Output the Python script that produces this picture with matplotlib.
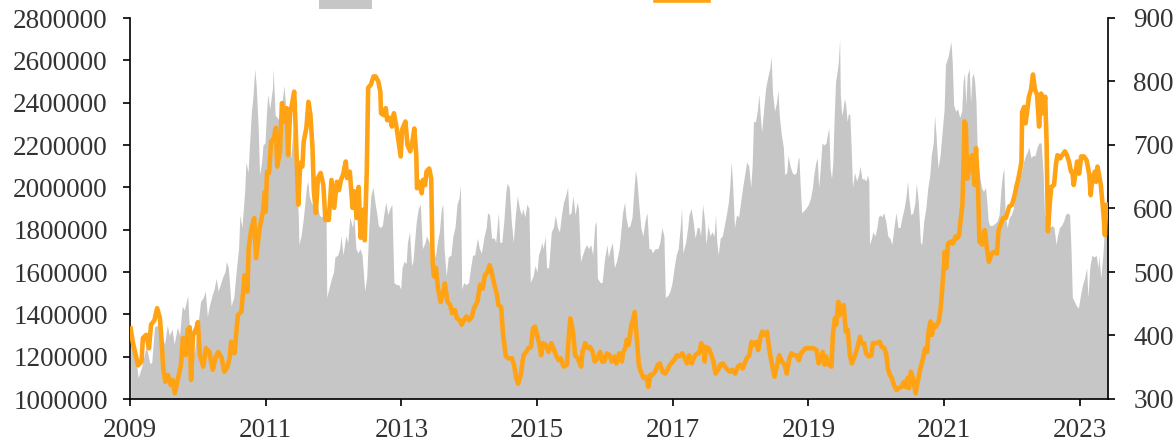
import matplotlib
matplotlib.use("Agg")
import matplotlib.pyplot as plt
from matplotlib.patches import Patch
from matplotlib.lines import Line2D

# gray area series (left axis), values in millions
area_dates = [
    2009.01, 2009.07, 2009.12, 2009.17, 2009.24, 2009.29, 2009.32, 2009.36, 2009.41, 2009.46,
    2009.51, 2009.55, 2009.58, 2009.62, 2009.65, 2009.70, 2009.73, 2009.77, 2009.80, 2009.83,
    2009.85, 2009.88, 2009.91, 2009.95, 2010.00, 2010.04, 2010.08, 2010.11, 2010.14, 2010.17,
    2010.21, 2010.24, 2010.27, 2010.30, 2010.34, 2010.37, 2010.40, 2010.42, 2010.45, 2010.49,
    2010.53, 2010.57, 2010.60, 2010.62, 2010.65, 2010.69, 2010.71, 2010.74, 2010.76, 2010.79,
    2010.81, 2010.84, 2010.86, 2010.89, 2010.91, 2010.94, 2010.96, 2010.99, 2011.01, 2011.03,
    2011.06, 2011.10, 2011.11, 2011.14, 2011.17, 2011.21, 2011.24, 2011.27, 2011.29, 2011.33,
    2011.37, 2011.41, 2011.44, 2011.48, 2011.49, 2011.52, 2011.55, 2011.57, 2011.60, 2011.62,
    2011.64, 2011.67, 2011.71, 2011.75, 2011.79, 2011.82, 2011.86, 2011.89, 2011.90, 2011.93,
    2011.97, 2012.00, 2012.02, 2012.06, 2012.09, 2012.11, 2012.14, 2012.18, 2012.21, 2012.24,
    2012.28, 2012.30, 2012.33, 2012.36, 2012.39, 2012.42, 2012.46, 2012.49, 2012.52, 2012.55,
    2012.58, 2012.61, 2012.64, 2012.66, 2012.69, 2012.72, 2012.74, 2012.77, 2012.80, 2012.83,
    2012.86, 2012.89, 2012.93, 2012.96, 2012.99, 2013.01, 2013.04, 2013.07, 2013.09, 2013.12,
    2013.15, 2013.17, 2013.22, 2013.25, 2013.28, 2013.31, 2013.35, 2013.37, 2013.41, 2013.43,
    2013.47, 2013.50, 2013.53, 2013.56, 2013.59, 2013.61, 2013.63, 2013.66, 2013.69, 2013.73,
    2013.76, 2013.79, 2013.82, 2013.85, 2013.87, 2013.89, 2013.92, 2013.95, 2013.99, 2014.02,
    2014.05, 2014.08, 2014.12, 2014.15, 2014.18, 2014.22, 2014.25, 2014.27, 2014.30, 2014.33,
    2014.37, 2014.39, 2014.43, 2014.45, 2014.48, 2014.51, 2014.54, 2014.56, 2014.59, 2014.62,
    2014.65, 2014.68, 2014.71, 2014.74, 2014.77, 2014.79, 2014.82, 2014.85, 2014.88, 2014.90,
    2014.94, 2014.97, 2015.00, 2015.02, 2015.05, 2015.07, 2015.09, 2015.12, 2015.14, 2015.17,
    2015.21, 2015.24, 2015.27, 2015.30, 2015.33, 2015.36, 2015.39, 2015.42, 2015.45, 2015.47,
    2015.50, 2015.53, 2015.56, 2015.59, 2015.61, 2015.64, 2015.67, 2015.70, 2015.73, 2015.76,
    2015.79, 2015.82, 2015.85, 2015.87, 2015.89, 2015.93, 2015.96, 2015.99, 2016.03, 2016.05,
    2016.08, 2016.11, 2016.14, 2016.17, 2016.21, 2016.24, 2016.26, 2016.29, 2016.31, 2016.34,
    2016.37, 2016.40, 2016.43, 2016.45, 2016.47, 2016.50, 2016.53, 2016.56, 2016.59, 2016.62,
    2016.65, 2016.68, 2016.70, 2016.74, 2016.78, 2016.81, 2016.84, 2016.87, 2016.89, 2016.93,
    2016.96, 2016.99, 2017.02, 2017.05, 2017.08, 2017.11, 2017.13, 2017.15, 2017.19, 2017.22,
    2017.24, 2017.27, 2017.30, 2017.33, 2017.36, 2017.39, 2017.41, 2017.44, 2017.47, 2017.49,
    2017.52, 2017.55, 2017.58, 2017.61, 2017.63, 2017.65, 2017.67, 2017.70, 2017.73, 2017.76,
    2017.79, 2017.82, 2017.84, 2017.86, 2017.88, 2017.91, 2017.94, 2017.97, 2018.00, 2018.03,
    2018.06, 2018.09, 2018.12, 2018.15, 2018.17, 2018.19, 2018.22, 2018.25, 2018.27, 2018.29,
    2018.31, 2018.34, 2018.37, 2018.40, 2018.43, 2018.45, 2018.47, 2018.50, 2018.53, 2018.55,
    2018.57, 2018.60, 2018.63, 2018.65, 2018.68, 2018.70, 2018.73, 2018.76, 2018.79, 2018.82,
    2018.85, 2018.86, 2018.88, 2018.90, 2018.93, 2018.96, 2019.00, 2019.03, 2019.06, 2019.08,
    2019.11, 2019.13, 2019.15, 2019.17, 2019.20, 2019.23, 2019.26, 2019.28, 2019.30, 2019.32,
    2019.34, 2019.36, 2019.38, 2019.40, 2019.42, 2019.44, 2019.46, 2019.47, 2019.49, 2019.51,
    2019.53, 2019.55, 2019.57, 2019.59, 2019.61, 2019.63, 2019.65, 2019.68, 2019.71, 2019.74,
    2019.76, 2019.79, 2019.82, 2019.85, 2019.87, 2019.89, 2019.90, 2019.93, 2019.95, 2019.98,
    2020.01, 2020.03, 2020.06, 2020.08, 2020.11, 2020.14, 2020.17, 2020.20, 2020.23, 2020.26,
    2020.29, 2020.32, 2020.35, 2020.38, 2020.41, 2020.44, 2020.46, 2020.48, 2020.51, 2020.54,
    2020.57, 2020.59, 2020.62, 2020.65, 2020.67, 2020.70, 2020.73, 2020.76, 2020.79, 2020.81,
    2020.84, 2020.86, 2020.88, 2020.91, 2020.94, 2020.97, 2021.00, 2021.02, 2021.06, 2021.10,
    2021.12, 2021.14, 2021.17, 2021.20, 2021.23, 2021.26, 2021.28, 2021.30, 2021.32, 2021.34,
    2021.37, 2021.39, 2021.41, 2021.43, 2021.45, 2021.47, 2021.49, 2021.52, 2021.55, 2021.58,
    2021.61, 2021.63, 2021.65, 2021.67, 2021.71, 2021.75, 2021.78, 2021.81, 2021.84, 2021.86,
    2021.88, 2021.90, 2021.93, 2021.96, 2021.99, 2022.02, 2022.05, 2022.08, 2022.11, 2022.14,
    2022.17, 2022.20, 2022.23, 2022.25, 2022.28, 2022.31, 2022.34, 2022.37, 2022.40, 2022.43,
    2022.46, 2022.48, 2022.50, 2022.53, 2022.56, 2022.59, 2022.62, 2022.65, 2022.67, 2022.70,
    2022.73, 2022.76, 2022.79, 2022.82, 2022.85, 2022.87, 2022.89, 2022.92, 2022.95, 2022.98,
    2023.01, 2023.04, 2023.07, 2023.10, 2023.12, 2023.15, 2023.18, 2023.21, 2023.24, 2023.27,
    2023.28, 2023.31, 2023.34, 2023.36, 2023.39, 2023.42,
]
area_mn = [
    1.30, 1.24, 1.10, 1.15, 1.25, 1.17, 1.17, 1.34, 1.35, 1.30,
    1.26, 1.35, 1.30, 1.33, 1.26, 1.34, 1.30, 1.44, 1.42, 1.46,
    1.49, 1.30, 1.24, 1.22, 1.35, 1.46, 1.48, 1.51, 1.39, 1.44,
    1.49, 1.52, 1.57, 1.51, 1.55, 1.58, 1.60, 1.65, 1.62, 1.44,
    1.48, 1.62, 1.71, 1.87, 1.81, 1.98, 2.12, 2.07, 2.19, 2.36,
    2.42, 2.56, 2.48, 2.28, 2.06, 2.12, 2.20, 2.21, 2.34, 2.44,
    2.37, 2.47, 2.56, 2.34, 2.33, 2.31, 2.40, 2.48, 2.40, 2.21,
    2.14, 2.29, 2.15, 1.87, 1.73, 1.77, 1.84, 1.90, 2.00, 2.03,
    1.96, 1.93, 1.90, 1.93, 1.87, 1.86, 1.87, 1.86, 1.48, 1.52,
    1.57, 1.60, 1.67, 1.68, 1.71, 1.77, 1.68, 1.77, 1.74, 1.86,
    1.81, 1.87, 1.71, 1.69, 1.71, 1.68, 1.51, 1.58, 1.81, 1.96,
    2.00, 1.93, 1.87, 1.82, 1.81, 1.82, 1.87, 1.93, 1.87, 1.90,
    1.92, 1.55, 1.54, 1.54, 1.52, 1.62, 1.65, 1.64, 1.74, 1.79,
    1.63, 1.65, 1.84, 1.90, 1.92, 1.71, 1.74, 1.77, 1.74, 1.65,
    1.71, 1.67, 1.74, 1.79, 1.90, 1.92, 1.71, 1.58, 1.67, 1.68,
    1.77, 1.81, 1.92, 1.95, 2.01, 1.52, 1.55, 1.54, 1.55, 1.62,
    1.68, 1.68, 1.76, 1.71, 1.69, 1.77, 1.81, 1.88, 1.87, 1.76,
    1.76, 1.74, 1.88, 1.74, 1.74, 1.84, 1.98, 2.02, 2.00, 1.84,
    1.74, 1.87, 1.96, 1.90, 1.87, 1.90, 1.86, 1.92, 1.90, 1.55,
    1.58, 1.63, 1.60, 1.68, 1.71, 1.74, 1.71, 1.77, 1.62, 1.62,
    1.79, 1.81, 1.87, 1.81, 1.79, 1.87, 1.93, 1.96, 2.00, 1.87,
    1.88, 1.96, 1.87, 1.93, 1.90, 1.65, 1.68, 1.71, 1.73, 1.71,
    1.73, 1.68, 1.82, 1.84, 1.57, 1.55, 1.55, 1.65, 1.73, 1.67,
    1.71, 1.74, 1.62, 1.65, 1.71, 1.81, 1.88, 1.93, 1.86, 1.81,
    1.82, 1.86, 2.00, 2.08, 2.04, 1.92, 1.81, 1.77, 1.84, 1.88,
    1.71, 1.71, 1.69, 1.71, 1.71, 1.74, 1.81, 1.77, 1.48, 1.49,
    1.51, 1.55, 1.62, 1.68, 1.71, 1.81, 1.90, 1.69, 1.74, 1.81,
    1.87, 1.90, 1.84, 1.76, 1.81, 1.81, 1.77, 1.92, 1.84, 1.73,
    1.82, 1.77, 1.79, 1.77, 1.87, 1.74, 1.68, 1.76, 1.77, 1.82,
    1.87, 1.93, 2.00, 2.12, 2.03, 1.81, 1.87, 1.86, 1.93, 2.00,
    2.06, 2.12, 2.10, 2.00, 2.10, 2.31, 2.31, 2.37, 2.44, 2.34,
    2.26, 2.37, 2.47, 2.52, 2.56, 2.62, 2.45, 2.36, 2.40, 2.46,
    2.34, 2.25, 2.19, 2.06, 2.07, 2.15, 2.10, 2.07, 2.06, 2.07,
    2.14, 2.14, 2.00, 1.88, 1.89, 1.90, 1.92, 1.95, 2.00, 2.06,
    2.12, 2.14, 2.00, 2.07, 2.21, 2.20, 2.21, 2.25, 2.28, 2.09,
    2.04, 2.12, 2.34, 2.50, 2.54, 2.59, 2.70, 2.44, 2.34, 2.37,
    2.42, 2.39, 2.31, 2.35, 2.34, 2.19, 2.00, 2.07, 2.03, 2.06,
    2.10, 2.04, 2.04, 2.03, 2.06, 2.03, 1.73, 1.76, 1.79, 1.77,
    1.81, 1.86, 1.87, 1.86, 1.88, 1.84, 1.77, 1.76, 1.73, 1.81,
    1.88, 1.81, 1.81, 1.86, 1.90, 1.96, 2.03, 1.95, 1.87, 1.88,
    1.93, 2.02, 1.93, 1.74, 1.73, 1.84, 1.90, 2.00, 2.06, 2.15,
    2.21, 2.34, 2.25, 2.09, 2.15, 2.26, 2.37, 2.58, 2.62, 2.69,
    2.59, 2.39, 2.36, 2.37, 2.33, 2.36, 2.50, 2.54, 2.39, 2.53,
    2.56, 2.40, 2.52, 2.54, 2.50, 2.40, 2.15, 2.06, 2.00, 1.98,
    2.00, 1.93, 1.84, 1.82, 1.82, 1.83, 1.84, 1.87, 2.00, 2.06,
    2.09, 1.87, 1.81, 1.86, 1.87, 1.90, 2.00, 2.03, 2.06, 2.07,
    2.12, 2.15, 2.17, 2.19, 2.14, 2.15, 2.15, 2.19, 2.21, 2.21,
    2.06, 1.87, 1.86, 1.82, 1.81, 1.82, 1.81, 1.73, 1.77, 1.81,
    1.82, 1.84, 1.87, 1.88, 1.87, 1.71, 1.48, 1.46, 1.44, 1.43,
    1.49, 1.54, 1.57, 1.62, 1.48, 1.63, 1.68, 1.67, 1.68, 1.62,
    1.68, 1.57, 1.68, 1.79, 1.84, 1.90,
]

# orange line series (right axis)
line_dates = [
    2009.01, 2009.04, 2009.12, 2009.17, 2009.19, 2009.24, 2009.28, 2009.31, 2009.36, 2009.40,
    2009.44, 2009.46, 2009.49, 2009.52, 2009.56, 2009.60, 2009.63, 2009.66, 2009.71, 2009.75,
    2009.78, 2009.82, 2009.85, 2009.88, 2009.90, 2009.93, 2009.98, 2010.00, 2010.03, 2010.08,
    2010.12, 2010.17, 2010.22, 2010.26, 2010.30, 2010.35, 2010.39, 2010.43, 2010.47, 2010.49,
    2010.54, 2010.59, 2010.64, 2010.69, 2010.73, 2010.75, 2010.79, 2010.83, 2010.86, 2010.91,
    2010.96, 2010.99, 2011.00, 2011.02, 2011.05, 2011.08, 2011.12, 2011.15, 2011.17, 2011.21,
    2011.24, 2011.28, 2011.31, 2011.33, 2011.36, 2011.38, 2011.42, 2011.44, 2011.48, 2011.51,
    2011.54, 2011.56, 2011.60, 2011.63, 2011.66, 2011.69, 2011.71, 2011.74, 2011.77, 2011.81,
    2011.85, 2011.88, 2011.93, 2011.97, 2012.01, 2012.05, 2012.08, 2012.11, 2012.14, 2012.18,
    2012.20, 2012.24, 2012.28, 2012.31, 2012.34, 2012.37, 2012.40, 2012.44, 2012.46, 2012.49,
    2012.51, 2012.55, 2012.59, 2012.62, 2012.66, 2012.69, 2012.70, 2012.74, 2012.77, 2012.79,
    2012.83, 2012.86, 2012.89, 2012.93, 2012.96, 2012.99, 2013.01, 2013.06, 2013.09, 2013.13,
    2013.17, 2013.19, 2013.22, 2013.23, 2013.26, 2013.30, 2013.32, 2013.35, 2013.37, 2013.41,
    2013.44, 2013.46, 2013.48, 2013.51, 2013.54, 2013.58, 2013.62, 2013.64, 2013.68, 2013.72,
    2013.75, 2013.79, 2013.82, 2013.86, 2013.89, 2013.92, 2013.96, 2014.00, 2014.04, 2014.07,
    2014.12, 2014.16, 2014.20, 2014.23, 2014.27, 2014.30, 2014.33, 2014.37, 2014.41, 2014.43,
    2014.47, 2014.50, 2014.54, 2014.58, 2014.63, 2014.66, 2014.69, 2014.72, 2014.76, 2014.80,
    2014.84, 2014.87, 2014.91, 2014.94, 2014.97, 2015.00, 2015.03, 2015.06, 2015.09, 2015.13,
    2015.17, 2015.21, 2015.24, 2015.28, 2015.32, 2015.35, 2015.39, 2015.44, 2015.47, 2015.49,
    2015.53, 2015.56, 2015.60, 2015.65, 2015.67, 2015.71, 2015.75, 2015.78, 2015.82, 2015.85,
    2015.89, 2015.93, 2015.96, 2015.99, 2016.03, 2016.07, 2016.10, 2016.14, 2016.17, 2016.21,
    2016.25, 2016.27, 2016.30, 2016.32, 2016.35, 2016.39, 2016.42, 2016.44, 2016.47, 2016.50,
    2016.53, 2016.57, 2016.61, 2016.64, 2016.67, 2016.70, 2016.74, 2016.78, 2016.81, 2016.85,
    2016.89, 2016.93, 2016.96, 2017.00, 2017.04, 2017.06, 2017.10, 2017.14, 2017.18, 2017.21,
    2017.24, 2017.28, 2017.32, 2017.36, 2017.39, 2017.42, 2017.46, 2017.47, 2017.49, 2017.53,
    2017.57, 2017.60, 2017.63, 2017.67, 2017.70, 2017.74, 2017.77, 2017.81, 2017.85, 2017.88,
    2017.92, 2017.96, 2018.00, 2018.03, 2018.06, 2018.09, 2018.13, 2018.16, 2018.19, 2018.23,
    2018.26, 2018.29, 2018.32, 2018.36, 2018.39, 2018.42, 2018.46, 2018.50, 2018.54, 2018.57,
    2018.61, 2018.65, 2018.68, 2018.72, 2018.75, 2018.78, 2018.82, 2018.86, 2018.89, 2018.93,
    2018.96, 2019.03, 2019.07, 2019.12, 2019.15, 2019.19, 2019.21, 2019.24, 2019.26, 2019.30,
    2019.34, 2019.36, 2019.39, 2019.41, 2019.44, 2019.46, 2019.48, 2019.52, 2019.55, 2019.58,
    2019.61, 2019.64, 2019.68, 2019.72, 2019.76, 2019.78, 2019.82, 2019.85, 2019.89, 2019.93,
    2019.95, 2020.00, 2020.05, 2020.08, 2020.12, 2020.15, 2020.17, 2020.20, 2020.23, 2020.26,
    2020.30, 2020.33, 2020.37, 2020.41, 2020.43, 2020.46, 2020.48, 2020.51, 2020.54, 2020.58,
    2020.61, 2020.65, 2020.69, 2020.72, 2020.75, 2020.77, 2020.80, 2020.82, 2020.85, 2020.88,
    2020.92, 2020.95, 2020.98, 2021.01, 2021.03, 2021.06, 2021.10, 2021.13, 2021.17, 2021.19,
    2021.22, 2021.24, 2021.27, 2021.29, 2021.30, 2021.32, 2021.34, 2021.37, 2021.39, 2021.41,
    2021.43, 2021.45, 2021.47, 2021.50, 2021.52, 2021.56, 2021.60, 2021.63, 2021.66, 2021.70,
    2021.74, 2021.78, 2021.80, 2021.83, 2021.87, 2021.91, 2021.96, 2022.00, 2022.04, 2022.07,
    2022.09, 2022.12, 2022.14, 2022.15, 2022.18, 2022.20, 2022.23, 2022.25, 2022.28, 2022.31,
    2022.34, 2022.37, 2022.40, 2022.43, 2022.46, 2022.49, 2022.51, 2022.53, 2022.56, 2022.58,
    2022.62, 2022.65, 2022.67, 2022.71, 2022.74, 2022.78, 2022.81, 2022.84, 2022.87, 2022.89,
    2022.91, 2022.94, 2022.96, 2022.99, 2023.02, 2023.06, 2023.10, 2023.14, 2023.16, 2023.18,
    2023.22, 2023.24, 2023.26, 2023.28, 2023.31, 2023.35, 2023.37, 2023.39, 2023.41,
]
line_vals = [
    411, 390, 353, 359, 396, 401, 380, 417, 424, 443,
    428, 401, 349, 327, 338, 322, 330, 309, 333, 353,
    396, 369, 409, 413, 330, 401, 412, 421, 369, 351,
    380, 374, 346, 365, 374, 365, 343, 349, 365, 390,
    372, 432, 437, 495, 469, 538, 569, 585, 522, 569,
    595, 627, 595, 658, 656, 705, 711, 727, 666, 689,
    766, 737, 758, 684, 752, 760, 784, 732, 606, 672,
    666, 705, 727, 768, 747, 695, 627, 593, 648, 656,
    637, 582, 582, 645, 601, 642, 629, 645, 653, 674,
    648, 658, 601, 627, 585, 634, 554, 598, 550, 658,
    790, 795, 808, 808, 800, 784, 750, 747, 758, 739,
    743, 729, 750, 727, 705, 682, 724, 737, 700, 690,
    710, 726, 684, 632, 642, 624, 645, 637, 658, 663,
    647, 516, 493, 506, 474, 453, 469, 482, 453, 448,
    435, 440, 427, 424, 417, 424, 430, 424, 430, 443,
    453, 480, 474, 495, 500, 511, 500, 480, 464, 448,
    445, 401, 367, 364, 364, 354, 335, 324, 338, 369,
    374, 380, 382, 411, 414, 401, 388, 369, 388, 385,
    374, 388, 380, 369, 361, 364, 351, 354, 401, 427,
    406, 369, 364, 351, 374, 388, 380, 382, 374, 359,
    364, 374, 359, 359, 372, 369, 359, 367, 356, 372,
    359, 374, 380, 393, 385, 417, 427, 437, 396, 354,
    343, 333, 335, 319, 338, 338, 343, 354, 356, 343,
    340, 348, 354, 359, 364, 369, 367, 372, 364, 356,
    369, 356, 367, 372, 372, 388, 380, 359, 382, 380,
    369, 359, 340, 346, 354, 356, 351, 346, 343, 346,
    340, 351, 354, 348, 356, 364, 369, 390, 385, 390,
    377, 396, 406, 401, 406, 380, 356, 335, 354, 369,
    359, 354, 340, 364, 372, 369, 369, 361, 372, 377,
    380, 380, 380, 377, 356, 364, 374, 354, 367, 354,
    351, 401, 427, 417, 453, 432, 443, 448, 406, 409,
    369, 356, 367, 380, 398, 388, 388, 372, 367, 369,
    388, 388, 390, 382, 380, 369, 348, 338, 333, 322,
    314, 317, 319, 327, 319, 333, 317, 343, 333, 309,
    327, 348, 364, 380, 374, 406, 422, 401, 417, 414,
    422, 443, 485, 532, 506, 545, 548, 545, 556, 553,
    558, 579, 606, 684, 737, 732, 647, 663, 679, 684,
    658, 637, 695, 632, 548, 543, 566, 537, 516, 529,
    532, 529, 564, 574, 585, 585, 603, 606, 621, 637,
    645, 661, 674, 752, 760, 734, 758, 776, 787, 811,
    787, 779, 729, 781, 750, 776, 705, 564, 611, 634,
    637, 671, 684, 679, 684, 690, 684, 674, 658, 658,
    637, 658, 674, 655, 682, 682, 676, 653, 621, 642,
    658, 642, 666, 655, 637, 590, 558, 606, 606,
]

year_ticks = [2009, 2011, 2013, 2015, 2017, 2019, 2021, 2023]
left_ticks = [1000000, 1200000, 1400000, 1600000, 1800000, 2000000,
              2200000, 2400000, 2600000, 2800000]
right_ticks = [300, 400, 500, 600, 700, 800, 900]

GRAY = "#c6c6c6"
ORANGE = "#ffa315"
TXT = "#333333"

plt.rcParams["font.family"] = ["Liberation Serif", "DejaVu Serif"]
plt.rcParams["font.size"] = 19.5

fig = plt.figure(figsize=(11.75, 4.48), dpi=100)
ax = fig.add_axes([130 / 1175, 1 - 399 / 448, (1108.3 - 130) / 1175, (399 - 18) / 448])

area_vals = [v * 1e6 for v in area_mn]
ax.fill_between(area_dates, 1000000, area_vals, color=GRAY, lw=0, zorder=1)
ax.set_xlim(2009, 2023.42)
ax.set_ylim(1000000, 2800000)
ax.set_yticks(left_ticks)
ax.set_yticklabels([str(t) for t in left_ticks])
ax.set_xticks(year_ticks)
ax.set_xticklabels([str(t) for t in year_ticks])

ax2 = ax.twinx()
ax2.plot(line_dates, line_vals, color=ORANGE, lw=3.3, solid_joinstyle="round", zorder=3)
ax2.set_ylim(300, 900)
ax2.set_yticks(right_ticks)
ax2.set_xlim(2009, 2023.42)

for a in (ax, ax2):
    a.spines["top"].set_visible(False)
    for s in ("left", "right", "bottom"):
        a.spines[s].set_linewidth(1.2)
        a.spines[s].set_color("black")
    a.tick_params(axis="x", direction="out", length=5, width=1.2,
                  colors="black", labelcolor=TXT, pad=9)

ax.tick_params(axis="y", direction="out", length=5, width=1.2,
               colors="black", labelcolor=TXT, pad=11)
ax2.tick_params(axis="y", direction="out", length=5, width=1.2,
                colors="black", labelcolor=TXT, pad=13)

ax.spines["right"].set_visible(False)
ax2.spines["left"].set_visible(False)
ax2.spines["bottom"].set_visible(False)

handles = [Patch(facecolor=GRAY, edgecolor="none"),
           Line2D([0], [0], color=ORANGE, lw=3.3)]
fig.legend(handles, ["", ""], loc="center left", ncol=2, frameon=False,
           bbox_to_anchor=(319 / 1175, 1 - 3 / 448), borderpad=0, borderaxespad=0,
           handlelength=1.95, handletextpad=0.75, columnspacing=9.7, fontsize=19.5)

fig.savefig("out.png", dpi=100)
